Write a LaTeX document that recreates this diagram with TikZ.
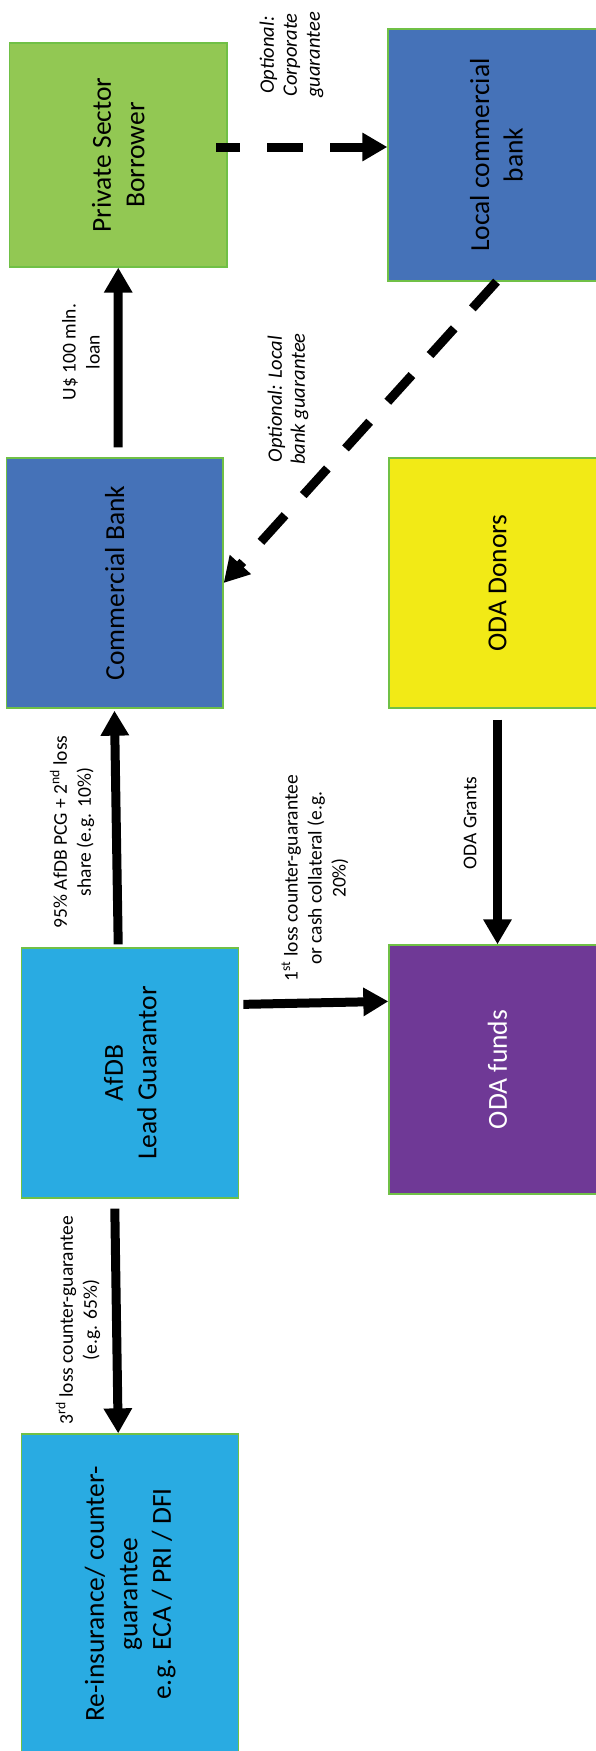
\documentclass[tikz,border=0pt]{standalone}
\usepackage{fontspec}
\setmainfont{Carlito}
\usetikzlibrary{arrows.meta}
\definecolor{bgreen}{RGB}{146,200,83}
\definecolor{bblue}{RGB}{69,114,184}
\definecolor{byellow}{RGB}{242,234,22}
\definecolor{bpurple}{RGB}{111,57,150}
\definecolor{blight}{RGB}{41,171,226}
\definecolor{edgegreen}{RGB}{112,192,70}
\begin{document}
\begin{tikzpicture}[x=1pt,y=-1pt,
  box/.style={draw=edgegreen, line width=1.3pt, rectangle, inner sep=0pt},
  boxtext/.style={rotate=90, align=center, font=\fontsize{27.5pt}{33.5pt}\selectfont, inner sep=0pt},
  lab/.style={rotate=90, align=center, font=\fontsize{19.5pt}{24pt}\selectfont, inner sep=0pt},
  ilab/.style={rotate=90, align=center, font=\fontsize{20.5pt}{23pt}\selectfont\itshape, inner sep=0pt},
  flow/.style={line width=9pt, -{Triangle[length=25pt,width=27pt]}},
  dflow/.style={flow, dash pattern=on 36pt off 27pt},
]
\useasboundingbox (0,0) rectangle (596,1751);
\fill[white] (0,0) rectangle (596,1751);

% boxes
\node[box, fill=bgreen, minimum width=217.5pt, minimum height=224pt] (borrower) at (118.25,155) {};
\node[box, fill=bblue, minimum width=217pt, minimum height=252pt] (local) at (496.5,155) {};
\node[box, fill=bblue, minimum width=216.5pt, minimum height=250pt] (cb) at (114.75,583) {};
\node[box, fill=byellow, minimum width=217pt, minimum height=250pt] (donors) at (497.5,583) {};
\node[box, fill=blight, minimum width=217pt, minimum height=250pt] (afdb) at (130.2,1073) {};
\node[box, fill=bpurple, minimum width=217pt, minimum height=249pt] (funds) at (497.5,1069.5) {};
\node[box, fill=blight, minimum width=217pt, minimum height=336pt] (reins) at (130.2,1602) {};

% box texts
\node[boxtext] (borrowertxt) at (borrower.center) {Private Sector\\Borrower};
\node[boxtext] (localtxt) at (local.center) {Local commercial\\bank};
\node[boxtext] (cbtxt) at (cb.center) {Commercial Bank};
\node[boxtext] (donorstxt) at (donors.center) {ODA Donors};
\node[boxtext] (afdbtxt) at (afdb.center) {AfDB\\Lead Guarantor};
\node[boxtext, text=white] (fundstxt) at (funds.center) {ODA funds};
\node[boxtext] (reinstxt) at ([yshift=8pt]reins.center) {Re-insurance/ counter-\\guarantee\\e.g. ECA / PRI / DFI};

% connectors
\draw[dflow, dash phase=12pt] ([xshift=-11.5pt,yshift=8pt]borrower.east) -- ([yshift=8pt]local.west);
\draw[flow] ([xshift=3.3pt,yshift=10pt]cb.north) -- (borrower.south);
\draw[dflow] (local.south) -- (cb.east);
\draw[flow] ([xshift=-12pt,yshift=3pt]afdb.north) -- ([xshift=-0.3pt,yshift=-2pt]cb.south);
\draw[flow] ([yshift=-11pt]donors.south) -- (funds.north);
\draw[flow] ([xshift=4pt,yshift=-57pt]afdb.north east) -- ([yshift=-57pt]funds.north west);
\draw[flow] ([xshift=-15.4pt,yshift=-10pt]afdb.south) -- ([xshift=-12pt]reins.north);

% labels
\node[lab] (loanlab) at (81,352) {U\$ 100 mln.\\loan};
\node[ilab] (corplab) at (291.5,55) {Optional:\\Corporate\\guarantee};
\node[ilab] (locallab) at (288,399) {Optional: Local\\bank guarantee};
\node[lab] (pcglab) at (72,832) {95\% AfDB PCG + 2\textsuperscript{nd} loss\\share (e.g. 10\%)};
\node[lab] (grantlab) at (470,823) {ODA Grants};
\node[lab] (firstlab) at (315,878) {1\textsuperscript{st} loss counter-guarantee\\or cash collateral (e.g.\\20\%)};
\node[lab] (thirdlab) at (78,1320) {3\textsuperscript{rd} loss counter-guarantee\\(e.g. 65\%)};
\end{tikzpicture}
\end{document}
